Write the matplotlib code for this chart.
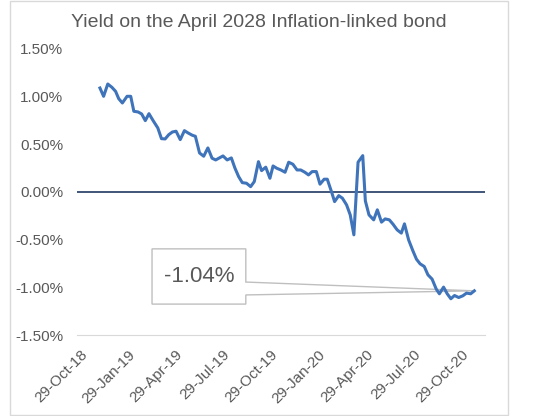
import matplotlib
matplotlib.use("Agg")
import matplotlib.pyplot as plt
import matplotlib.dates as mdates
from matplotlib.patches import Polygon, Rectangle
from matplotlib.ticker import FuncFormatter
import pandas as pd

plt.rcParams['font.family'] = ['Liberation Sans', 'DejaVu Sans']

title = "Yield on the April 2028 Inflation-linked bond"

dates = ["2018-12-06", "2018-12-13", "2018-12-21", "2018-12-29", "2019-01-05", "2019-01-11",
         "2019-01-18", "2019-01-27", "2019-02-03", "2019-02-09", "2019-02-17", "2019-02-24",
         "2019-03-03", "2019-03-10", "2019-03-18", "2019-03-27", "2019-04-03", "2019-04-10",
         "2019-04-17", "2019-04-24", "2019-05-01", "2019-05-09", "2019-05-17", "2019-05-24",
         "2019-06-01", "2019-06-07", "2019-06-15", "2019-06-23", "2019-07-01", "2019-07-09",
         "2019-07-16", "2019-07-24", "2019-07-30", "2019-08-07", "2019-08-15", "2019-08-22",
         "2019-08-29", "2019-09-05", "2019-09-13", "2019-09-21", "2019-09-28", "2019-10-06",
         "2019-10-12", "2019-10-20", "2019-10-28", "2019-11-03", "2019-11-10", "2019-11-18",
         "2019-11-26", "2019-12-03", "2019-12-11", "2019-12-19", "2019-12-26", "2020-01-03",
         "2020-01-10", "2020-01-17", "2020-01-25", "2020-02-01", "2020-02-09", "2020-02-15",
         "2020-02-23", "2020-02-29", "2020-03-08", "2020-03-15", "2020-03-23", "2020-03-30",
         "2020-04-06", "2020-04-14", "2020-04-23", "2020-04-28", "2020-05-05", "2020-05-14",
         "2020-05-21", "2020-05-29", "2020-06-05", "2020-06-13", "2020-06-20", "2020-06-28",
         "2020-07-06", "2020-07-12", "2020-07-20", "2020-07-28", "2020-08-04", "2020-08-11",
         "2020-08-19", "2020-08-26", "2020-09-03", "2020-09-11", "2020-09-17", "2020-09-25",
         "2020-10-02", "2020-10-09", "2020-10-16", "2020-10-24", "2020-11-01", "2020-11-08",
         "2020-11-16", "2020-11-23"]

# yield in %
yields = [1.089, 1.002, 1.131, 1.096, 1.054, 0.977, 0.932, 1.002, 1.002, 0.845, 0.838, 0.817,
          0.747, 0.820, 0.747, 0.670, 0.558, 0.555, 0.600, 0.628, 0.636, 0.548, 0.642, 0.618,
          0.594, 0.583, 0.408, 0.374, 0.461, 0.353, 0.335, 0.359, 0.377, 0.335, 0.356, 0.248,
          0.160, 0.097, 0.091, 0.055, 0.108, 0.317, 0.223, 0.259, 0.143, 0.272, 0.248, 0.230,
          0.206, 0.311, 0.290, 0.230, 0.230, 0.206, 0.178, 0.213, 0.213, 0.081, 0.133, 0.133,
          0.003, -0.102, -0.039, -0.066, -0.136, -0.241, -0.450, 0.311, 0.380, -0.094, -0.241, -0.293,
          -0.188, -0.317, -0.283, -0.293, -0.338, -0.398, -0.432, -0.335, -0.503, -0.615, -0.705, -0.754,
          -0.782, -0.869, -0.914, -1.019, -1.068, -0.998, -1.068, -1.120, -1.086, -1.107, -1.089, -1.061,
          -1.068, -1.037]

tick_dates = ["2018-10-29", "2019-01-29", "2019-04-29", "2019-07-29", "2019-10-29",
              "2020-01-29", "2020-04-29", "2020-07-29", "2020-10-29"]
y_ticks = [1.5, 1.0, 0.5, 0.0, -0.5, -1.0, -1.5]

x = pd.to_datetime(dates)
gray_txt = '#595959'

fig = plt.figure(figsize=(5.54, 4.16), dpi=100)
# chart border
fig.patches.append(Rectangle((0.018, 0.0024), 0.899, 0.9952, transform=fig.transFigure,
                             fill=False, edgecolor='#D9D9D9', linewidth=1))
ax = fig.add_axes([0.139, 0.1947, 0.736, 0.688])

ax.plot(x, yields, color='#3F74BA', linewidth=2.2, zorder=3, solid_joinstyle='round')
ax.axhline(0, color='#203864', linewidth=1.2, zorder=2)

ax.set_ylim(-1.5, 1.5)
ax.set_xlim(pd.Timestamp("2018-10-23"), pd.Timestamp("2020-12-13"))
ax.set_yticks(y_ticks)
ax.yaxis.set_major_formatter(FuncFormatter(lambda v, p: f"{v:.2f}%"))
ax.set_xticks(pd.to_datetime(tick_dates))
ax.xaxis.set_major_formatter(mdates.DateFormatter('%d-%b-%y'))

for s in ['top', 'right', 'left']:
    ax.spines[s].set_visible(False)
ax.spines['bottom'].set_color('#D9D9D9')
ax.tick_params(axis='both', length=0, labelsize=11, labelcolor=gray_txt)
ax.tick_params(axis='y', pad=10)
ax.tick_params(axis='x', pad=9)
for lab in ax.get_xticklabels():
    lab.set_rotation(45)
    lab.set_ha('right')
    lab.set_rotation_mode('anchor')

fig.text(0.468, 0.945, title, ha='center', va='center', fontsize=14, color=gray_txt)

# callout for last value
tip = ax.transAxes.inverted().transform(ax.transData.transform((mdates.date2num(x[-1]), yields[-1])))
bx0, bx1, by0, by1 = 0.184, 0.414, 0.108, 0.301
callout = Polygon([(bx0, by0), (bx0, by1), (bx1, by1), (bx1, 0.185), tuple(tip),
                   (bx1, 0.140), (bx1, by0)], closed=True, transform=ax.transAxes,
                  facecolor='white', edgecolor='#BFBFBF', linewidth=1, zorder=1.5, clip_on=False)
ax.add_patch(callout)
ax.text((bx0 + bx1) / 2, (by0 + by1) / 2, f"{yields[-1]:.2f}%", transform=ax.transAxes,
        ha='center', va='center', fontsize=16, color=gray_txt, zorder=4)

fig.savefig("out.png", dpi=100)
